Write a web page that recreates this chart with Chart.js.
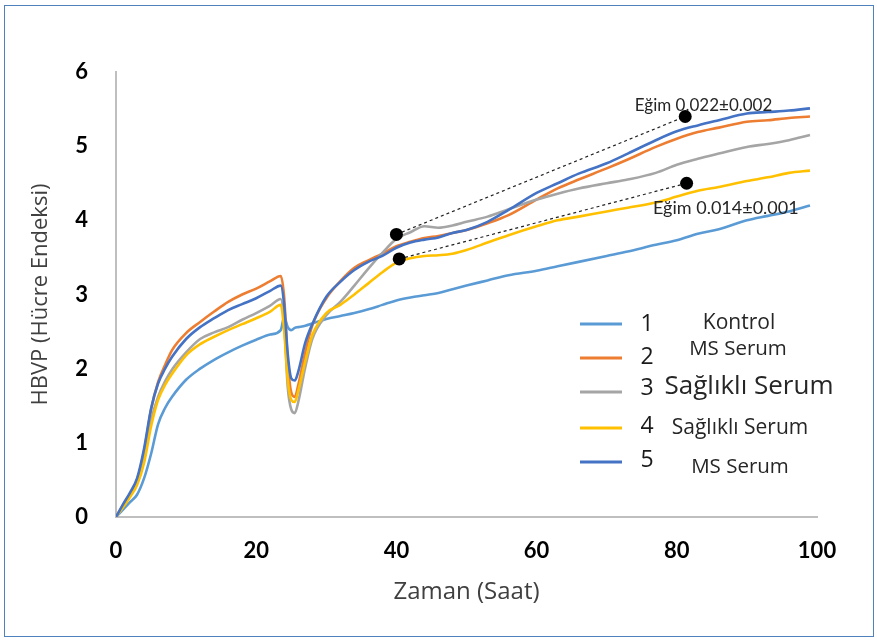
<!DOCTYPE html>
<html>
<head>
<meta charset="utf-8">
<script src="https://cdn.jsdelivr.net/npm/chart.js@4"></script>
<style>
    body { margin: 0; background: #fff; }
    #wrap { position: relative; width: 877px; height: 642px; }
    #frame {
        position: absolute; left: 4px; top: 5px; width: 870px; height: 632px;
        box-sizing: border-box; border: 1.5px solid #4F81BD;
    }
    #hbvpChart { position: absolute; left: 0; top: 0; }
</style>
</head>
<body>
<div id="wrap">
    <div id="frame"></div>
    <canvas id="hbvpChart" width="877" height="642"></canvas>
</div>
<script>
// zaman ekseni (saat)
const hours = [0, 1, 2, 3, 4, 5, 6, 7, 8, 10, 12, 14, 16, 18, 20, 22, 23.5, 24, 24.5, 25, 25.5, 26, 27, 28,
    30, 32, 34, 36, 38, 40, 42, 44, 46, 48, 50, 53, 56, 60, 63, 66, 70, 73, 77, 80, 83, 86, 90, 93, 96, 99];

// hücre endeksi değerleri
const kontrol = [0, 0.10, 0.20, 0.30, 0.52, 0.85, 1.25, 1.47, 1.62, 1.85, 2.00, 2.12, 2.22, 2.31, 2.39, 2.46,
    2.52, 2.70, 2.56, 2.52, 2.55, 2.56, 2.58, 2.61, 2.67, 2.71, 2.75, 2.80, 2.86, 2.92, 2.96, 2.99, 3.02, 3.07, 3.12,
    3.19, 3.26, 3.32, 3.38, 3.44, 3.52, 3.58, 3.67, 3.73, 3.82, 3.88, 4.00, 4.06, 4.12, 4.20];
const msSerum2 = [0, 0.16, 0.31, 0.50, 0.88, 1.45, 1.82, 2.05, 2.25, 2.48, 2.63, 2.77, 2.90, 3.00, 3.08, 3.18,
    3.25, 2.95, 2.10, 1.68, 1.62, 1.78, 2.22, 2.58, 2.95, 3.18, 3.36, 3.46, 3.55, 3.65, 3.71, 3.76, 3.79, 3.83, 3.87,
    3.96, 4.07, 4.28, 4.43, 4.55, 4.70, 4.82, 4.99, 5.10, 5.19, 5.25, 5.33, 5.35, 5.38, 5.40];
const saglikli3 = [0, 0.14, 0.29, 0.45, 0.78, 1.30, 1.62, 1.83, 1.99, 2.22, 2.40, 2.49, 2.56, 2.66, 2.75, 2.85,
    2.94, 2.60, 1.75, 1.45, 1.40, 1.55, 2.02, 2.40, 2.72, 2.90, 3.12, 3.35, 3.56, 3.75, 3.84, 3.92, 3.90, 3.93, 3.98,
    4.05, 4.15, 4.28, 4.36, 4.43, 4.50, 4.55, 4.64, 4.75, 4.83, 4.90, 4.99, 5.03, 5.08, 5.15];
const saglikli4 = [0, 0.13, 0.27, 0.43, 0.73, 1.22, 1.58, 1.78, 1.93, 2.18, 2.33, 2.43, 2.52, 2.60, 2.68, 2.77,
    2.86, 2.50, 1.85, 1.58, 1.55, 1.70, 2.10, 2.45, 2.75, 2.86, 3.00, 3.15, 3.30, 3.43, 3.49, 3.52, 3.53, 3.55, 3.60,
    3.70, 3.80, 3.92, 4.00, 4.05, 4.12, 4.17, 4.24, 4.32, 4.40, 4.45, 4.53, 4.58, 4.64, 4.67];
const msSerum5 = [0, 0.17, 0.33, 0.52, 0.92, 1.46, 1.80, 2.00, 2.16, 2.40, 2.56, 2.68, 2.79, 2.87, 2.95, 3.05,
    3.12, 2.85, 2.20, 1.87, 1.84, 1.96, 2.35, 2.60, 2.97, 3.17, 3.33, 3.44, 3.52, 3.63, 3.70, 3.74, 3.77, 3.83, 3.87,
    3.98, 4.14, 4.37, 4.50, 4.63, 4.77, 4.90, 5.08, 5.20, 5.28, 5.35, 5.44, 5.46, 5.48, 5.51];

// eğim çizgileri (uç noktaları)
const slopeHigh = [{ x: 40, y: 3.81 }, { x: 81.2, y: 5.40 }];
const slopeLow = [{ x: 40.4, y: 3.48 }, { x: 81.4, y: 4.50 }];
const slopeTexts = ["Eğim 0.022±0.002", "Eğim 0.014±0.001"];

// lejant
const legendNums = ["1", "2", "3", "4", "5"];
const legendLabels = ["Kontrol", "MS Serum", "Sağlıklı Serum", "Sağlıklı Serum", "MS Serum"];
const colors = ["#5B9BD5", "#ED7D31", "#A5A5A5", "#FFC000", "#4472C4"];

const xTicks = [0, 20, 40, 60, 80, 100];
const yTicks = [0, 1, 2, 3, 4, 5, 6];

function pts(arr) {
    return hours.map((h, i) => ({ x: h, y: arr[i] }));
}

const seriesList = [kontrol, msSerum2, saglikli3, saglikli4, msSerum5];
const datasets = seriesList.map((s, i) => ({
    label: legendNums[i] + " " + legendLabels[i],
    data: pts(s),
    borderColor: colors[i],
    borderWidth: 2.6,
    pointRadius: 0,
    cubicInterpolationMode: "monotone",
    order: 5 - i
}));

[slopeHigh, slopeLow].forEach((s, i) => {
    datasets.push({
        label: slopeTexts[i],
        data: s,
        borderColor: "#222",
        borderWidth: 1.2,
        borderDash: [3, 3],
        pointRadius: 6.5,
        pointBackgroundColor: "#000",
        pointBorderWidth: 0,
        order: 0
    });
});

// lejant ve eğim yazıları
const extrasPlugin = {
    id: "extras",
    afterDraw(chart) {
        const ctx = chart.ctx;
        const xs = chart.scales.x, ys = chart.scales.y;
        ctx.save();

        // eğim yazıları
        ctx.fillStyle = "#262626";
        ctx.textBaseline = "middle";
        ctx.textAlign = "left";
        ctx.font = "17px Lato";
        ctx.fillText(slopeTexts[0], xs.getPixelForValue(74.0), ys.getPixelForValue(5.55));
        ctx.font = "18px Lato";
        ctx.fillText(slopeTexts[1], xs.getPixelForValue(76.6), ys.getPixelForValue(4.16));

        // lejant satırları
        const rows = [
            { lineY: 324, numY: 324, labX: 739, labY: 323, size: 21 },
            { lineY: 358, numY: 357, labX: 738, labY: 349, size: 20.5 },
            { lineY: 392, numY: 388, labX: 749, labY: 387, size: 26 },
            { lineY: 428, numY: 426, labX: 740, labY: 428, size: 21 },
            { lineY: 462, numY: 460, labX: 740, labY: 467, size: 20.5 }
        ];
        rows.forEach((r, i) => {
            ctx.strokeStyle = colors[i];
            ctx.lineWidth = 3;
            ctx.beginPath();
            ctx.moveTo(580, r.lineY);
            ctx.lineTo(622, r.lineY);
            ctx.stroke();

            ctx.fillStyle = "#1a1a1a";
            ctx.textAlign = "center";
            ctx.font = "23px 'Open Sans'";
            ctx.fillText(legendNums[i], 647, r.numY);

            ctx.fillStyle = "#262626";
            ctx.font = r.size + "px 'Open Sans'";
            ctx.fillText(legendLabels[i], r.labX, r.labY);
        });
        ctx.restore();
    }
};

new Chart(document.getElementById("hbvpChart"), {
    type: "line",
    data: { datasets: datasets },
    options: {
        responsive: false,
        animation: false,
        devicePixelRatio: 1,
        layout: { padding: { left: 10, right: 60, top: 72, bottom: 0 } },
        plugins: {
            legend: { display: false },
            tooltip: { enabled: false }
        },
        scales: {
            x: {
                type: "linear",
                min: 0,
                max: 100,
                afterFit: (s) => { s.height = 125; },
                afterBuildTicks: (s) => { s.ticks = xTicks.map(v => ({ value: v })); },
                grid: { display: false, drawTicks: false },
                border: { display: true, color: "#BFBFBF", width: 2 },
                ticks: { padding: 21, color: "#000", font: { family: "Lato", size: 22, weight: "bold" } },
                title: {
                    display: true,
                    text: "Zaman (Saat)",
                    color: "#404040",
                    font: { family: "'Open Sans'", size: 24 },
                    padding: { top: 0, bottom: 35 }
                }
            },
            y: {
                min: 0,
                max: 6,
                afterFit: (s) => { s.width = 106; },
                afterBuildTicks: (s) => { s.ticks = yTicks.map(v => ({ value: v })); },
                grid: { display: false, drawTicks: false },
                border: { display: true, color: "#BFBFBF", width: 2 },
                ticks: { padding: 28, color: "#000", font: { family: "Lato", size: 22, weight: "bold" } },
                title: {
                    display: true,
                    text: "HBVP (Hücre Endeksi)",
                    color: "#404040",
                    font: { family: "'Open Sans'", size: 22 },
                    padding: { top: 18, bottom: 0 }
                }
            }
        }
    },
    plugins: [extrasPlugin]
});
</script>
</body>
</html>
